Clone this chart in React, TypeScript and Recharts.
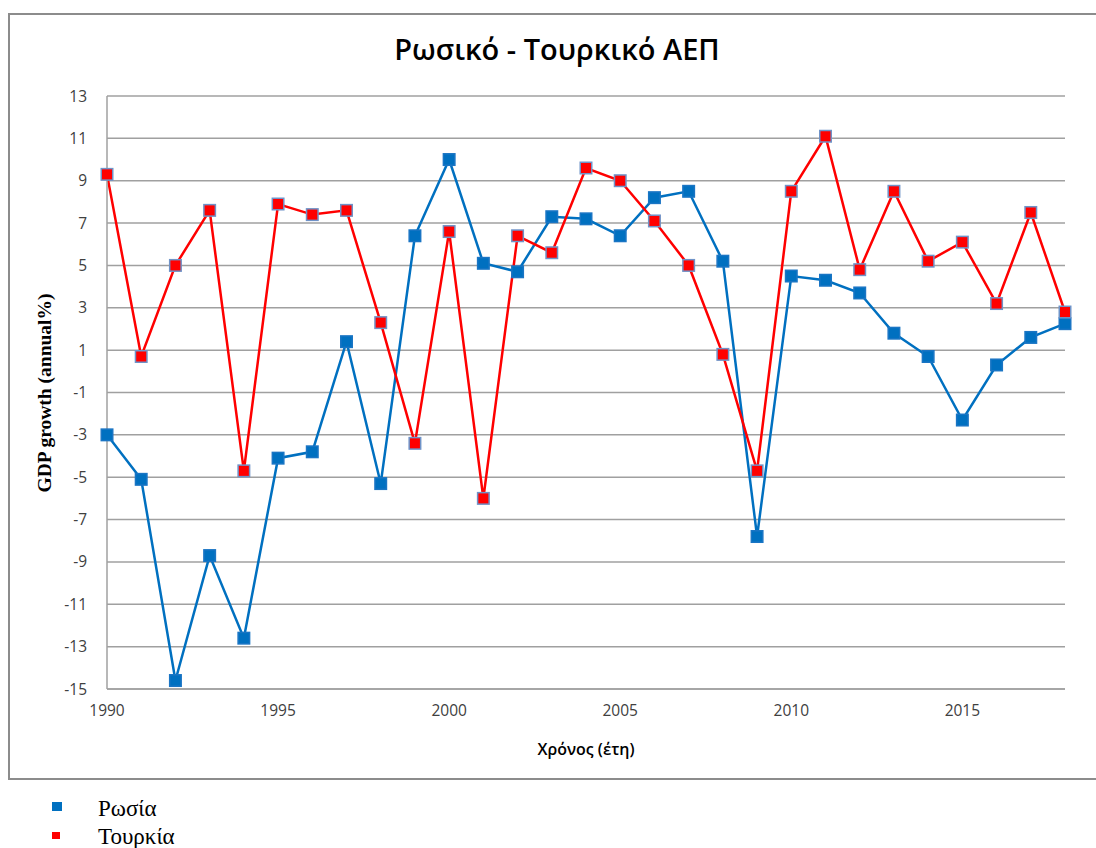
import React from 'react';
import { LineChart, Line, XAxis, YAxis, CartesianGrid } from 'recharts';

const years = [1990, 1991, 1992, 1993, 1994, 1995, 1996, 1997, 1998, 1999, 2000, 2001, 2002, 2003, 2004, 2005, 2006, 2007, 2008, 2009, 2010, 2011, 2012, 2013, 2014, 2015, 2016, 2017, 2018];
const russia = [-3.0, -5.1, -14.6, -8.7, -12.6, -4.1, -3.8, 1.4, -5.3, 6.4, 10.0, 5.1, 4.7, 7.3, 7.2, 6.4, 8.2, 8.5, 5.2, -7.8, 4.5, 4.3, 3.7, 1.8, 0.7, -2.3, 0.3, 1.6, 2.25];
const turkey = [9.3, 0.7, 5.0, 7.6, -4.7, 7.9, 7.4, 7.6, 2.3, -3.4, 6.6, -6.0, 6.4, 5.6, 9.6, 9.0, 7.1, 5.0, 0.8, -4.7, 8.5, 11.1, 4.8, 8.5, 5.2, 6.1, 3.2, 7.5, 2.8];
const xTicks = [1990, 1995, 2000, 2005, 2010, 2015];
const yTicks = [13, 11, 9, 7, 5, 3, 1, -1, -3, -5, -7, -9, -11, -13, -15];

const seriesNames = { russia: 'Ρωσία', turkey: 'Τουρκία' };
const titleText = 'Ρωσικό - Τουρκικό ΑΕΠ';
const xTitle = 'Χρόνος (έτη)';
const yTitle = 'GDP growth (annual%)';

const data = years.map((y, i) => ({ year: y, russia: russia[i], turkey: turkey[i] }));

const BLUE = '#0070C0';
const RED = '#FF0000';

const SquareDot = (props: any) => {
  const { cx, cy, fill, stroke } = props;
  if (cx == null || cy == null) return null;
  const s = 11.5;
  return <rect x={cx - s / 2} y={cy - s / 2} width={s} height={s} fill={fill} stroke={stroke} strokeWidth={1.5} />;
};

export default function App() {
  return (
    <div style={{ position: 'absolute', left: 0, top: 0, width: 1096, height: 848, background: '#fff', overflow: 'hidden' }}>
      <div style={{ position: 'absolute', left: 8, top: 13, width: 1100, height: 767, border: '2px solid #8c8c8c', boxSizing: 'border-box' }} />
      <div style={{ position: 'absolute', left: 0, top: 29, width: 1114, textAlign: 'center', fontFamily: '"Open Sans", sans-serif', fontWeight: 600, fontSize: 29, color: '#000' }}>
        {titleText}
      </div>
      <div style={{ position: 'absolute', left: 0, top: 0 }}>
        <LineChart width={1096} height={848} data={data} margin={{ top: 96, right: 31, bottom: 129, left: 47 }}>
          <CartesianGrid vertical={false} stroke="#a0a0a0" strokeWidth={1.5} />
          <XAxis
            dataKey="year"
            type="number"
            domain={[1990, 2018]}
            ticks={xTicks}
            tickLine={false}
            axisLine={{ stroke: '#a0a0a0', strokeWidth: 1.5 }}
            tick={{ fill: '#404040', fontSize: 15.5, fontFamily: '"Open Sans", sans-serif' }}
            tickMargin={10}
            height={30}
            label={{ value: xTitle, position: 'insideBottom', offset: -36, fill: '#000', fontSize: 16, fontWeight: 600, fontFamily: '"Open Sans", sans-serif' }}
          />
          <YAxis
            type="number"
            domain={[-15, 13]}
            ticks={yTicks}
            interval={0}
            tickLine={false}
            axisLine={{ stroke: '#a0a0a0', strokeWidth: 1.5 }}
            tick={{ fill: '#404040', fontSize: 15.5, fontFamily: '"Open Sans", sans-serif' }}
            tickMargin={14}
            width={60}
            label={{ value: yTitle, angle: -90, position: 'insideLeft', offset: -3, dy: 100, fill: '#000', fontSize: 19.5, fontWeight: 'bold', fontFamily: '"Liberation Serif", serif' }}
          />
          <Line dataKey="russia" name={seriesNames.russia} stroke={BLUE} strokeWidth={2.5} isAnimationActive={false}
            dot={<SquareDot fill={BLUE} stroke="#1a75c4" />} activeDot={false} />
          <Line dataKey="turkey" name={seriesNames.turkey} stroke={RED} strokeWidth={2.5} isAnimationActive={false}
            dot={<SquareDot fill={RED} stroke="#6f93c8" />} activeDot={false} />
        </LineChart>
      </div>
      <div style={{ position: 'absolute', left: 52, top: 796, width: 220, fontFamily: '"Liberation Serif", "DejaVu Serif", serif', fontSize: 23, color: '#000' }}>
        <div style={{ position: 'relative', height: 28 }}>
          <span style={{ position: 'absolute', left: 0, top: 6, width: 10, height: 9, background: BLUE }} />
          <span style={{ position: 'absolute', left: 46, top: 0, lineHeight: '26px' }}>{seriesNames.russia}</span>
        </div>
        <div style={{ position: 'relative', height: 28 }}>
          <span style={{ position: 'absolute', left: 0, top: 8, width: 8, height: 7, background: RED }} />
          <span style={{ position: 'absolute', left: 46, top: 0, lineHeight: '26px' }}>{seriesNames.turkey}</span>
        </div>
      </div>
    </div>
  );
}
